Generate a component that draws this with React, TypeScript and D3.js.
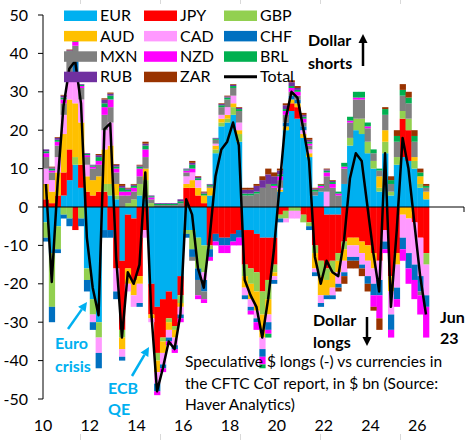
import * as d3 from 'd3';

// Net speculative positions vs USD by currency, $ bn, quarterly
const currencies = ['EUR', 'JPY', 'GBP', 'AUD', 'CAD', 'CHF', 'MXN', 'NZD', 'BRL', 'RUB', 'ZAR'];

const colors: Record<string, string> = {
  EUR: '#00B0F0',
  JPY: '#FF0000',
  GBP: '#92D050',
  AUD: '#FFC000',
  CAD: '#FF99FF',
  CHF: '#0070C0',
  MXN: '#808080',
  NZD: '#FF00FF',
  BRL: '#00B050',
  RUB: '#7030A0',
  ZAR: '#993300',
};

const EUR = [-4, -12, -5, 3, 7, 11, 5, -16, -24, -30, -6, 3, 2, -14, -2, -3, 3, 2, -20, -26, -24, -22, -24, -18, -6, -6, -8, -10, 3, 14, 21, 22, 24, 17, -6, -6, -7, -8, -8, -8, 4, 20, 25, 23, 18, 13, 3, 4, -2, -2, -2, 6, 16, 20, 19, 14, 10, 4, 14, 3, 11, 13, 12, 10, 5, 2];
const JPY = [2, 1, 3, 6, 8, -6, 6, 4, 3, 4, 4, -6, -16, -18, -14, -16, -18, -6, -8, -12, -10, -7, -7, -5, 5, 5, 3, 1, -10, -7, -8, -8, -7, -6, -9, -10, -10, -14, -11, -7, -2, -1, 2, 3, -2, -4, -10, -14, -14, -12, -10, -9, -8, -8, -9, -10, -12, -14, -6, -18, -12, 10, 8, -4, -8, -12];
const GBP = [-4, -14, -6, -2, -3, 2, -3, -3, -4, -4, 2, 3, 1, -2, 1, 2, 3, 5, 1, -2, -1, -1, -1, -2, -1, -5, -8, -7, -1, 1, 1, 1, 2, 2, -3, -4, -5, -6, -5, -2, -1, -2, -1, -1, -2, -1, -2, -4, -3, -3, -2, -2, 2, 3, 4, 3, 2, 1, 3, 1, 2, 2, 3, 2, 1, -3];
const AUD = [4, 3, 6, 10, 13, 14, 11, 4, 4, 4, 9, 10, 3, -3, -4, -4, -2, 3, -1, -3, -3, -2, -2, -1, 1, 2, 2, 2, 2, 1, 1, 1, 1, 1, -3, -4, -5, -6, -4, -1, 0.5, 1, 1, 1, 1, 1, -4, -5, -4, -4, -3, -3, -2, -2, -3, -4, -4, 3, 3, -4, -3, -2, -3, 1, 2, 2];
const CAD = [4, 3, 4, 5, 7, 8, 6, 3, -2, -4, 5, 6, -6, -2, -2, -3, -5, -2, -1, -3, -3, -2, -2, -2, 2, 2, 2, -2, 0, 0.5, 1, 2, 2, 2, -2, -2, -2, -3, -2, -1, 0.5, -1, -2, -2, 1, 1, -1, -2, 4, -2, -3, -3, -3, -3, -3, -4, -4, -5, -3, -6, -6, -6, -9, -11, -10, -8];
const CHF = [-1, -4, -1, -1, -2, 3, -2, -3, -2, -4, -2, -2, -2, -1, 0, 0, -1, 0, 0, -2, -1, -1, -1, -1, -1, -2, -3, -3, -2, -2, -2, -2, -2, -2, -1, -1, -1, -2, -2, -1, -1, 1, 1, 1, 1, -1, -1, -1, -1, -1, -1, -1, -1, -1, -1, -2, -3, -4, -2, -4, -3, -3, -4, -4, -4, -3];
const MXN = [3, 2, 3, 3, 4, 4, 3, 2, 3, 3, 4, 4, 3, 3, 2, 2, 2, 3, 1, 0.5, 0.5, 0.5, 0.5, 1, 1, -1, -4, -2, 0.5, 1, 2, 2, 2, 3, 3, 3, 3.5, 5, 6, 5, 2, 2, 1, 1, 1, 1, 1, 1, 4, 5, 3, 4, 4, 5, 5, 3.5, 2, 1.5, 4, 2, 4, 4, 4, 4, -1, 1];
const NZD = [1, 0.5, 1, 1, 1, 1, 0.5, 0.5, 0.5, 1, 2, 2, 1, 1, 1, 1, 2, 2, 0.5, -1, -1, -1, -1, -1, 0.5, 1, -1, -1, -1, -1, -2, -2, -1, -2, 0, -1, -2, -2, -1, 0.5, 1, 1, 1, 1, 1, 0.5, 0, 0.5, 1, 1, 0.5, 0.5, 0.5, 0.5, 0.5, 0.5, -3, -6, -1, -2, -2, -3, -4, -5, -5, -8];
const BRL = [0.5, 0.5, 0.5, 0.5, 0.5, 0.5, 0.3, 0.3, 0.3, 1, 1, 1, 0.5, 1, 0.5, 0.5, 0.5, 1, 0.3, 0.3, 0.3, 0.3, 0.3, 0.5, 0.3, 1, 0.5, 0.5, 0.3, 0.3, 0.5, 0.5, 0.5, 0.5, 0.5, 0.5, 0.5, -1, -1, 0.5, 0.5, 0.5, 0.5, 0.5, 0.5, 0.5, 0.5, 0.3, 0.5, 0.5, 0.5, 1, 1, 1.5, 1.5, 1, 1, 0.5, 1.5, 1, 1.5, 1.5, 1.5, 1.5, 1, 0.5];
const RUB = [0.5, 0.3, 0.5, 0.5, 0.3, 0.3, 0.2, 0.2, 0.2, 0.5, 1, 0.5, 0.5, 0.5, 0.3, 0.3, 0.3, 0.5, 0.2, 0.2, 0.2, 0.2, 0.2, 0.5, 0.2, 0.5, 0.3, 0.3, 0.2, 0.2, 0.3, 0.3, 0.3, 0.3, 1, 1, 1.5, 2, 2.5, 2, 1, 1, 1, 0.5, 0.5, 0.5, 0.3, 0, 0.3, 0.3, 0, 0, 0, 0, 0, 0, 0, 0, 0, 0, 0, 0, 0, 0, 0, 0];
const ZAR = [0, 0.2, 0.2, 0.2, 0.2, 0.2, 0, 0, 0, 0.3, 0.3, 0.3, 0.2, 0.5, 0.2, 0.2, 0.2, 0.5, 0, 0, 0, 0, 0, 0, 0, 0.5, 0.2, 0.2, 0, 0, 0.2, 0.2, 0.2, 0.2, 0.5, 0.5, 0.5, 1, 1.5, 1, 0.5, 0.5, 0.5, 0.5, 0.5, 0.5, 0.2, 0.2, 0.2, 0.2, -1, -2, -2, -2, -2, -2, -1, -3, 0.5, 1, 1.5, 1.5, 1.5, 1.5, 1, 0.5];

const seriesValues: Record<string, number[]> = { EUR, JPY, GBP, AUD, CAD, CHF, MXN, NZD, BRL, RUB, ZAR };

// axis labels run 10..26 on a [10, 28] axis; one bar per quarter
const xTicks = [10, 12, 14, 16, 18, 20, 22, 24, 26];
const yTicks = [50, 40, 30, 20, 10, 0, -10, -20, -30, -40, -50];
const quarterStart = d3.range(EUR.length).map(i => 10 + i / 4);

const legendRows = [
  ['EUR', 'JPY', 'GBP'],
  ['AUD', 'CAD', 'CHF'],
  ['MXN', 'NZD', 'BRL'],
  ['RUB', 'ZAR', 'Total'],
];

const captionLines = [
  'Speculative $ longs (-) vs currencies in',
  'the CFTC CoT report, in $ bn (Source:',
  'Haver Analytics)',
];

const FONT = "Lato, 'Open Sans', sans-serif";
const CYAN = '#00B0F0';

type Row = Record<string, number> & { t: number };

function Arrow({ x1, y1, x2, y2, color, width = 2.5, head = 9 }: {
  x1: number; y1: number; x2: number; y2: number; color: string; width?: number; head?: number;
}) {
  const ang = Math.atan2(y2 - y1, x2 - x1);
  const bx = x2 - head * Math.cos(ang);
  const by = y2 - head * Math.sin(ang);
  const hw = head * 0.5;
  const px = -Math.sin(ang) * hw;
  const py = Math.cos(ang) * hw;
  return (
    <g>
      <line x1={x1} y1={y1} x2={bx} y2={by} stroke={color} strokeWidth={width} />
      <polygon points={`${x2},${y2} ${bx + px},${by + py} ${bx - px},${by - py}`} fill={color} />
    </g>
  );
}

export default function App() {
  const W = 472;
  const H = 440;

  const x = d3.scaleLinear().domain([10, 28]).range([43, 464]);
  const y = d3.scaleLinear().domain([-50, 50]).range([399, 15]);

  const rows: Row[] = quarterStart.map((t, i) => {
    const r: any = { t };
    currencies.forEach(c => { r[c] = seriesValues[c][i]; });
    return r;
  });

  const stacked = d3
    .stack<Row>()
    .keys(currencies)
    .order(d3.stackOrderNone)
    .offset(d3.stackOffsetDiverging)(rows);

  const totals = rows.map(r => ({ t: r.t, v: d3.sum(currencies, c => r[c]) }));

  const totalLine = d3
    .line<{ t: number; v: number }>()
    .x(d => x(d.t + 0.125))
    .y(d => y(d.v));

  const bw = x(10.25) - x(10);
  const zeroY = y(0);

  return (
    <svg
      width={W}
      height={H}
      style={{ position: 'absolute', left: 0, top: 0, background: '#fff' }}
      fontFamily={FONT}
    >
      {/* sheet gridline stubs */}
      {[80, 160, 240, 320, 400].map(gx => (
        <g key={gx} stroke="#d9d9d9" strokeWidth={1}>
          <line x1={gx + 0.5} x2={gx + 0.5} y1={0} y2={4} />
          <line x1={gx + 0.5} x2={gx + 0.5} y1={434} y2={440} />
        </g>
      ))}

      {/* stacked bars */}
      {stacked.map(layer => (
        <g key={layer.key} fill={colors[layer.key]}>
          {layer.map((d, i) => {
            const top = y(Math.max(d[0], d[1]));
            const bot = y(Math.min(d[0], d[1]));
            if (bot - top < 0.01) return null;
            return (
              <rect
                key={i}
                x={x(d.data.t)}
                y={top}
                width={bw + 0.4}
                height={bot - top}
              />
            );
          })}
        </g>
      ))}

      {/* total */}
      <path d={totalLine(totals) ?? ''} fill="none" stroke="#000" strokeWidth={2.5} strokeLinejoin="round" />

      {/* axes */}
      <line x1={43} x2={464} y1={zeroY} y2={zeroY} stroke="#000" strokeWidth={1} />
      <line x1={464} x2={464} y1={zeroY} y2={zeroY + 5} stroke="#000" strokeWidth={1} />
      <line x1={43} x2={43} y1={y(50)} y2={y(-50)} stroke="#000" strokeWidth={1} />
      {yTicks.map(v => (
        <g key={v}>
          <line x1={38} x2={43} y1={y(v)} y2={y(v)} stroke="#000" strokeWidth={1} />
          <text x={28} y={y(v)} dy="0.35em" textAnchor="end" fontSize={16} fill="#000">
            {v}
          </text>
        </g>
      ))}
      {xTicks.map(v => (
        <text key={v} x={x(v)} y={425} dy="0.35em" textAnchor="middle" fontSize={16} fill="#000">
          {v}
        </text>
      ))}

      {/* legend */}
      {legendRows.map((row, ri) =>
        row.map((name, ci) => {
          const lx = 64 + ci * 80;
          const cy = 15.5 + ri * 20.4;
          return (
            <g key={name}>
              {name === 'Total' ? (
                <line x1={lx} x2={lx + 33} y1={cy} y2={cy} stroke="#000" strokeWidth={3} />
              ) : (
                <rect x={lx} y={cy - 5} width={33} height={10.5} fill={colors[name]} />
              )}
              <text x={lx + 36} y={cy} dy="0.35em" fontSize={16} fill="#000">
                {name}
              </text>
            </g>
          );
        })
      )}

      {/* annotations */}
      <g fontWeight="bold" fontSize={16} fill="#000">
        <text x={308} y={40} dy="0.35em">Dollar</text>
        <text x={308} y={63} dy="0.35em">shorts</text>
        <text x={313} y={320} dy="0.35em">Dollar</text>
        <text x={313} y={342} dy="0.35em">longs</text>
        <text x={440} y={317} dy="0.35em">Jun</text>
        <text x={440} y={338} dy="0.35em">23</text>
      </g>
      <Arrow x1={363} y1={66} x2={363} y2={34} color="#000" />
      <Arrow x1={367} y1={317} x2={367} y2={346} color="#000" />

      <g fontWeight="bold" fontSize={16} fill={CYAN}>
        <text x={55} y={343} dy="0.35em">Euro</text>
        <text x={55} y={366} dy="0.35em">crisis</text>
        <text x={108} y={388} dy="0.35em">ECB</text>
        <text x={108} y={409} dy="0.35em">QE</text>
      </g>
      <Arrow x1={68} y1={329} x2={87} y2={302} color={CYAN} />
      <Arrow x1={132} y1={376} x2={149} y2={347} color={CYAN} />

      <g fontSize={15.5} fill="#000">
        {captionLines.map((line, i) => (
          <text key={i} x={185} y={362 + i * 21.5} dy="0.35em">
            {line}
          </text>
        ))}
      </g>
    </svg>
  );
}
